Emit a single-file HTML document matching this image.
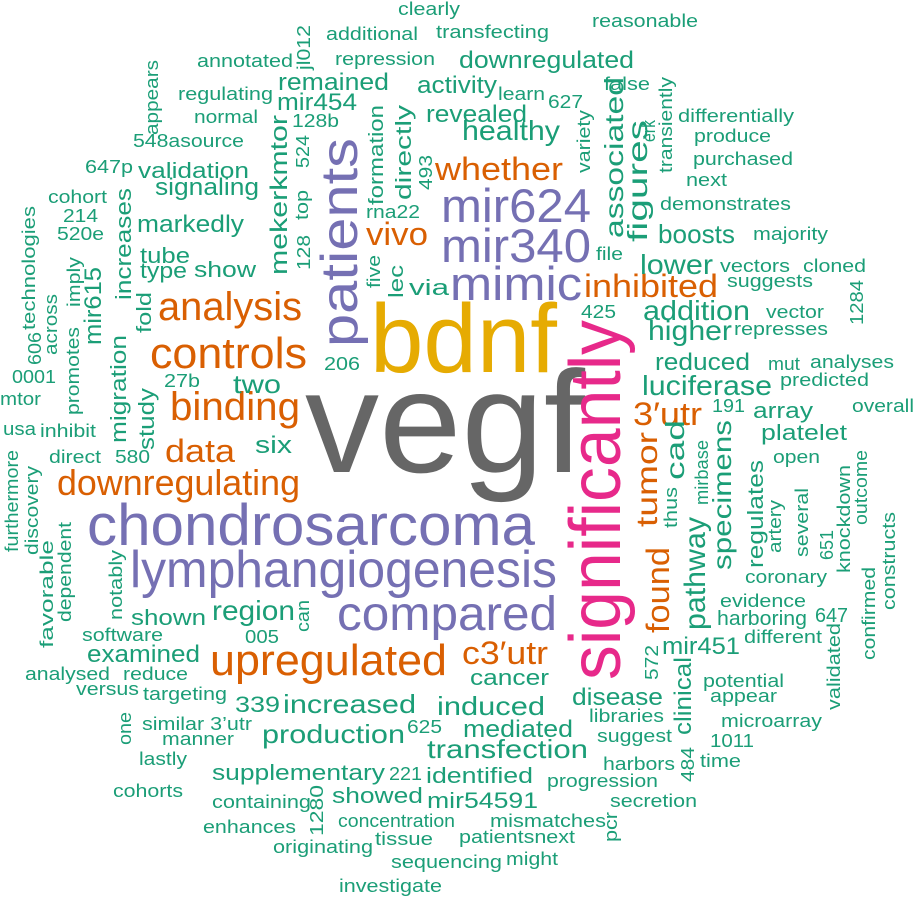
<!DOCTYPE html>
<html><head><meta charset="utf-8"><style>
html,body{margin:0;padding:0;background:#fff;}
svg{display:block;font-family:"Liberation Sans",Arial,sans-serif;}
text{fill:#1b9e77;font-size:18px;}
.o{fill:#d95f02}.p{fill:#7570b3}.m{fill:#e7298a}.y{fill:#e6ab02}.g{fill:#666666}
</style></head><body>
<svg width="914" height="897" viewBox="0 0 914 897" xmlns="http://www.w3.org/2000/svg">
<defs></defs>
<!-- big words -->
<text class="g" x="305" y="472" font-size="145" style="font-size:145px" textLength="280" lengthAdjust="spacingAndGlyphs">vegf</text>
<text class="y" x="370" y="372" style="font-size:97px" textLength="187" lengthAdjust="spacingAndGlyphs">bdnf</text>
<text class="m" transform="translate(620,680) rotate(-90)" style="font-size:72px" textLength="360" lengthAdjust="spacingAndGlyphs">significantly</text>
<text class="p" x="87" y="545" style="font-size:58px" textLength="448" lengthAdjust="spacingAndGlyphs">chondrosarcoma</text>
<text class="p" x="130" y="587" style="font-size:52px" textLength="427" lengthAdjust="spacingAndGlyphs">lymphangiogenesis</text>
<text class="p" x="337" y="630" style="font-size:48px" textLength="220" lengthAdjust="spacingAndGlyphs">compared</text>
<text class="p" transform="translate(357,347) rotate(-90)" style="font-size:52px" textLength="209" lengthAdjust="spacingAndGlyphs">patients</text>
<text class="p" x="441" y="222" style="font-size:47px" textLength="150" lengthAdjust="spacingAndGlyphs">mir624</text>
<text class="p" x="441" y="262" style="font-size:47px" textLength="150" lengthAdjust="spacingAndGlyphs">mir340</text>
<text class="p" x="450" y="300" style="font-size:47px" textLength="132" lengthAdjust="spacingAndGlyphs">mimic</text>
<!-- orange -->
<text class="o" x="150" y="368" style="font-size:44px" textLength="157" lengthAdjust="spacingAndGlyphs">controls</text>
<text class="o" x="158" y="320" style="font-size:40px" textLength="144" lengthAdjust="spacingAndGlyphs">analysis</text>
<text class="o" x="170" y="420" style="font-size:40px" textLength="130" lengthAdjust="spacingAndGlyphs">binding</text>
<text class="o" x="210" y="675" style="font-size:44px" textLength="237" lengthAdjust="spacingAndGlyphs">upregulated</text>
<text class="o" x="57" y="495" style="font-size:36px" textLength="243" lengthAdjust="spacingAndGlyphs">downregulating</text>
<text class="o" x="165" y="462" style="font-size:32px" textLength="70" lengthAdjust="spacingAndGlyphs">data</text>
<text class="o" x="435" y="180" style="font-size:32px" textLength="128" lengthAdjust="spacingAndGlyphs">whether</text>
<text class="o" x="366" y="245" style="font-size:32px" textLength="62" lengthAdjust="spacingAndGlyphs">vivo</text>
<text class="o" x="584" y="297" style="font-size:32px" textLength="134" lengthAdjust="spacingAndGlyphs">inhibited</text>
<text class="o" x="462" y="664" style="font-size:32px" textLength="86" lengthAdjust="spacingAndGlyphs">c3′utr</text>
<text class="o" x="633" y="425" style="font-size:32px" textLength="69" lengthAdjust="spacingAndGlyphs">3′utr</text>
<text class="o" transform="translate(657,527) rotate(-90)" style="font-size:30px" textLength="95" lengthAdjust="spacingAndGlyphs">tumor</text>
<text class="o" transform="translate(669,633) rotate(-90)" style="font-size:32px" textLength="86" lengthAdjust="spacingAndGlyphs">found</text>
<!-- green horizontal -->
<text x="462" y="140" style="font-size:28px" textLength="98" lengthAdjust="spacingAndGlyphs">healthy</text>
<text x="459" y="68" style="font-size:24px" textLength="175" lengthAdjust="spacingAndGlyphs">downregulated</text>
<text x="426" y="122" style="font-size:24px" textLength="101" lengthAdjust="spacingAndGlyphs">revealed</text>
<text x="417" y="93" style="font-size:24px" textLength="80" lengthAdjust="spacingAndGlyphs">activity</text>
<text x="278" y="90" style="font-size:24px" textLength="111" lengthAdjust="spacingAndGlyphs">remained</text>
<text x="277" y="110" style="font-size:24px" textLength="80" lengthAdjust="spacingAndGlyphs">mir454</text>
<text x="643" y="320" style="font-size:28px" textLength="107" lengthAdjust="spacingAndGlyphs">addition</text>
<text x="648" y="340" style="font-size:28px" textLength="84" lengthAdjust="spacingAndGlyphs">higher</text>
<text x="640" y="274" style="font-size:28px" textLength="73" lengthAdjust="spacingAndGlyphs">lower</text>
<text x="658" y="243" style="font-size:26px" textLength="77" lengthAdjust="spacingAndGlyphs">boosts</text>
<text x="655" y="370" style="font-size:24px" textLength="95" lengthAdjust="spacingAndGlyphs">reduced</text>
<text x="642" y="395" style="font-size:28px" textLength="130" lengthAdjust="spacingAndGlyphs">luciferase</text>
<text x="745" y="583" textLength="82" lengthAdjust="spacingAndGlyphs">coronary</text>
<text x="720" y="607" textLength="86" lengthAdjust="spacingAndGlyphs">evidence</text>
<text x="717" y="625" style="font-size:20px" textLength="90" lengthAdjust="spacingAndGlyphs">harboring</text>
<text x="815" y="622" style="font-size:20px" textLength="33" lengthAdjust="spacingAndGlyphs">647</text>
<text x="744" y="643" textLength="78" lengthAdjust="spacingAndGlyphs">different</text>
<text x="662" y="654" style="font-size:24px" textLength="78" lengthAdjust="spacingAndGlyphs">mir451</text>
<text x="703" y="687" textLength="81" lengthAdjust="spacingAndGlyphs">potential</text>
<text x="710" y="702" textLength="67" lengthAdjust="spacingAndGlyphs">appear</text>
<text x="721" y="727" textLength="101" lengthAdjust="spacingAndGlyphs">microarray</text>
<text x="710" y="747" textLength="44" lengthAdjust="spacingAndGlyphs">1011</text>
<text x="700" y="767" textLength="41" lengthAdjust="spacingAndGlyphs">time</text>
<text x="603" y="770" textLength="72" lengthAdjust="spacingAndGlyphs">harbors</text>
<text x="547" y="787" textLength="111" lengthAdjust="spacingAndGlyphs">progression</text>
<text x="610" y="807" textLength="87" lengthAdjust="spacingAndGlyphs">secretion</text>
<text x="490" y="827" textLength="116" lengthAdjust="spacingAndGlyphs">mismatches</text>
<text x="459" y="843" textLength="116" lengthAdjust="spacingAndGlyphs">patientsnext</text>
<text x="506" y="865" textLength="52" lengthAdjust="spacingAndGlyphs">might</text>
<text x="391" y="868" textLength="111" lengthAdjust="spacingAndGlyphs">sequencing</text>
<text x="339" y="892" textLength="103" lengthAdjust="spacingAndGlyphs">investigate</text>
<text x="273" y="853" textLength="100" lengthAdjust="spacingAndGlyphs">originating</text>
<text x="375" y="845" textLength="58" lengthAdjust="spacingAndGlyphs">tissue</text>
<text x="338" y="827" textLength="117" lengthAdjust="spacingAndGlyphs">concentration</text>
<text x="203" y="833" textLength="93" lengthAdjust="spacingAndGlyphs">enhances</text>
<text x="212" y="808" textLength="99" lengthAdjust="spacingAndGlyphs">containing</text>
<text x="332" y="803" style="font-size:22px" textLength="91" lengthAdjust="spacingAndGlyphs">showed</text>
<text x="427" y="808" style="font-size:22px" textLength="111" lengthAdjust="spacingAndGlyphs">mir54591</text>
<text x="426" y="783" style="font-size:22px" textLength="107" lengthAdjust="spacingAndGlyphs">identified</text>
<text x="212" y="780" style="font-size:22px" textLength="173" lengthAdjust="spacingAndGlyphs">supplementary</text>
<text x="389" y="780" textLength="33" lengthAdjust="spacingAndGlyphs">221</text>
<text x="427" y="758" style="font-size:26px" textLength="161" lengthAdjust="spacingAndGlyphs">transfection</text>
<text x="262" y="743" style="font-size:26px" textLength="143" lengthAdjust="spacingAndGlyphs">production</text>
<text x="407" y="733" textLength="35" lengthAdjust="spacingAndGlyphs">625</text>
<text x="283" y="713" style="font-size:26px" textLength="133" lengthAdjust="spacingAndGlyphs">increased</text>
<text x="437" y="715" style="font-size:26px" textLength="108" lengthAdjust="spacingAndGlyphs">induced</text>
<text x="235" y="712" style="font-size:22px" textLength="45" lengthAdjust="spacingAndGlyphs">339</text>
<text x="463" y="737" style="font-size:24px" textLength="110" lengthAdjust="spacingAndGlyphs">mediated</text>
<text x="470" y="685" style="font-size:22px" textLength="79" lengthAdjust="spacingAndGlyphs">cancer</text>
<text x="572" y="705" style="font-size:24px" textLength="91" lengthAdjust="spacingAndGlyphs">disease</text>
<text x="589" y="722" textLength="75" lengthAdjust="spacingAndGlyphs">libraries</text>
<text x="597" y="742" textLength="75" lengthAdjust="spacingAndGlyphs">suggest</text>
<text x="143" y="700" textLength="84" lengthAdjust="spacingAndGlyphs">targeting</text>
<text x="142" y="730" textLength="110" lengthAdjust="spacingAndGlyphs">similar 3’utr</text>
<text x="162" y="745" textLength="72" lengthAdjust="spacingAndGlyphs">manner</text>
<text x="76" y="695" textLength="63" lengthAdjust="spacingAndGlyphs">versus</text>
<text x="139" y="765" textLength="48" lengthAdjust="spacingAndGlyphs">lastly</text>
<text x="113" y="797" textLength="70" lengthAdjust="spacingAndGlyphs">cohorts</text>
<text x="25" y="680" textLength="85" lengthAdjust="spacingAndGlyphs">analysed</text>
<text x="123" y="680" textLength="65" lengthAdjust="spacingAndGlyphs">reduce</text>
<text x="87" y="662" style="font-size:24px" textLength="113" lengthAdjust="spacingAndGlyphs">examined</text>
<text x="82" y="641" textLength="81" lengthAdjust="spacingAndGlyphs">software</text>
<text x="245" y="643" textLength="34" lengthAdjust="spacingAndGlyphs">005</text>
<text x="131" y="625" style="font-size:22px" textLength="75" lengthAdjust="spacingAndGlyphs">shown</text>
<text x="212" y="620" style="font-size:28px" textLength="83" lengthAdjust="spacingAndGlyphs">region</text>
<text x="49" y="463" textLength="52" lengthAdjust="spacingAndGlyphs">direct</text>
<text x="115" y="463" textLength="35" lengthAdjust="spacingAndGlyphs">580</text>
<text x="255" y="453" style="font-size:24px" textLength="37" lengthAdjust="spacingAndGlyphs">six</text>
<text x="233" y="393" style="font-size:26px" textLength="48" lengthAdjust="spacingAndGlyphs">two</text>
<text x="164" y="387" textLength="36" lengthAdjust="spacingAndGlyphs">27b</text>
<text x="324" y="370" textLength="36" lengthAdjust="spacingAndGlyphs">206</text>
<text x="3" y="435" textLength="33" lengthAdjust="spacingAndGlyphs">usa</text>
<text x="40" y="437" textLength="56" lengthAdjust="spacingAndGlyphs">inhibit</text>
<text x="0" y="405" textLength="41" lengthAdjust="spacingAndGlyphs">mtor</text>
<text x="12" y="383" textLength="44" lengthAdjust="spacingAndGlyphs">0001</text>
<text x="140" y="263" style="font-size:22px" textLength="50" lengthAdjust="spacingAndGlyphs">tube</text>
<text x="140" y="278" style="font-size:22px" textLength="47" lengthAdjust="spacingAndGlyphs">type</text>
<text x="194" y="277" style="font-size:22px" textLength="62" lengthAdjust="spacingAndGlyphs">show</text>
<text x="137" y="232" style="font-size:24px" textLength="107" lengthAdjust="spacingAndGlyphs">markedly</text>
<text x="155" y="195" style="font-size:24px" textLength="104" lengthAdjust="spacingAndGlyphs">signaling</text>
<text x="138" y="178" style="font-size:22px" textLength="111" lengthAdjust="spacingAndGlyphs">validation</text>
<text x="133" y="147" textLength="111" lengthAdjust="spacingAndGlyphs">548asource</text>
<text x="85" y="173" textLength="48" lengthAdjust="spacingAndGlyphs">647p</text>
<text x="48" y="203" textLength="59" lengthAdjust="spacingAndGlyphs">cohort</text>
<text x="63" y="222" textLength="35" lengthAdjust="spacingAndGlyphs">214</text>
<text x="57" y="240" textLength="47" lengthAdjust="spacingAndGlyphs">520e</text>
<text x="178" y="100" textLength="95" lengthAdjust="spacingAndGlyphs">regulating</text>
<text x="194" y="123" textLength="64" lengthAdjust="spacingAndGlyphs">normal</text>
<text x="197" y="67" textLength="96" lengthAdjust="spacingAndGlyphs">annotated</text>
<text x="326" y="40" textLength="92" lengthAdjust="spacingAndGlyphs">additional</text>
<text x="335" y="65" textLength="100" lengthAdjust="spacingAndGlyphs">repression</text>
<text x="398" y="15" textLength="62" lengthAdjust="spacingAndGlyphs">clearly</text>
<text x="436" y="38" textLength="113" lengthAdjust="spacingAndGlyphs">transfecting</text>
<text x="592" y="27" textLength="106" lengthAdjust="spacingAndGlyphs">reasonable</text>
<text x="498" y="100" textLength="47" lengthAdjust="spacingAndGlyphs">learn</text>
<text x="548" y="108" textLength="35" lengthAdjust="spacingAndGlyphs">627</text>
<text x="604" y="90" textLength="46" lengthAdjust="spacingAndGlyphs">false</text>
<text x="678" y="122" textLength="116" lengthAdjust="spacingAndGlyphs">differentially</text>
<text x="694" y="142" textLength="77" lengthAdjust="spacingAndGlyphs">produce</text>
<text x="693" y="165" textLength="100" lengthAdjust="spacingAndGlyphs">purchased</text>
<text x="686" y="186" textLength="41" lengthAdjust="spacingAndGlyphs">next</text>
<text x="660" y="210" textLength="131" lengthAdjust="spacingAndGlyphs">demonstrates</text>
<text x="753" y="240" textLength="75" lengthAdjust="spacingAndGlyphs">majority</text>
<text x="720" y="272" textLength="70" lengthAdjust="spacingAndGlyphs">vectors</text>
<text x="803" y="272" textLength="63" lengthAdjust="spacingAndGlyphs">cloned</text>
<text x="727" y="287" textLength="86" lengthAdjust="spacingAndGlyphs">suggests</text>
<text x="766" y="318" textLength="58" lengthAdjust="spacingAndGlyphs">vector</text>
<text x="734" y="335" textLength="94" lengthAdjust="spacingAndGlyphs">represses</text>
<text x="768" y="370" textLength="32" lengthAdjust="spacingAndGlyphs">mut</text>
<text x="810" y="368" textLength="84" lengthAdjust="spacingAndGlyphs">analyses</text>
<text x="780" y="386" textLength="89" lengthAdjust="spacingAndGlyphs">predicted</text>
<text x="852" y="412" textLength="62" lengthAdjust="spacingAndGlyphs">overall</text>
<text x="712" y="412" textLength="33" lengthAdjust="spacingAndGlyphs">191</text>
<text x="753" y="418" style="font-size:22px" textLength="60" lengthAdjust="spacingAndGlyphs">array</text>
<text x="761" y="440" style="font-size:22px" textLength="86" lengthAdjust="spacingAndGlyphs">platelet</text>
<text x="773" y="463" textLength="47" lengthAdjust="spacingAndGlyphs">open</text>
<text x="581" y="318" textLength="35" lengthAdjust="spacingAndGlyphs">425</text>
<text x="596" y="260" textLength="27" lengthAdjust="spacingAndGlyphs">file</text>
<text x="366" y="218" textLength="54" lengthAdjust="spacingAndGlyphs">rna22</text>
<text x="409" y="295" style="font-size:22px" textLength="40" lengthAdjust="spacingAndGlyphs">via</text>
<text x="292" y="127" textLength="47" lengthAdjust="spacingAndGlyphs">128b</text>
<!-- green vertical -->
<text transform="translate(623,238) rotate(-90)" style="font-size:26px" textLength="161" lengthAdjust="spacingAndGlyphs">associated</text>
<text transform="translate(647,242) rotate(-90)" style="font-size:28px" textLength="122" lengthAdjust="spacingAndGlyphs">figures</text>
<text transform="translate(655,142) rotate(-90)" textLength="22" lengthAdjust="spacingAndGlyphs">erk</text>
<text transform="translate(672,173) rotate(-90)" textLength="96" lengthAdjust="spacingAndGlyphs">transiently</text>
<text transform="translate(590,173) rotate(-90)" textLength="63" lengthAdjust="spacingAndGlyphs">variety</text>
<text transform="translate(705,630) rotate(-90)" style="font-size:30px" textLength="113" lengthAdjust="spacingAndGlyphs">pathway</text>
<text transform="translate(731,570) rotate(-90)" style="font-size:26px" textLength="150" lengthAdjust="spacingAndGlyphs">specimens</text>
<text transform="translate(684,480) rotate(-90)" style="font-size:26px" textLength="60" lengthAdjust="spacingAndGlyphs">cad</text>
<text transform="translate(708,505) rotate(-90)" textLength="65" lengthAdjust="spacingAndGlyphs">mirbase</text>
<text transform="translate(677,528) rotate(-90)" textLength="41" lengthAdjust="spacingAndGlyphs">thus</text>
<text transform="translate(763,568) rotate(-90)" style="font-size:22px" textLength="108" lengthAdjust="spacingAndGlyphs">regulates</text>
<text transform="translate(781,553) rotate(-90)" textLength="53" lengthAdjust="spacingAndGlyphs">artery</text>
<text transform="translate(808,557) rotate(-90)" textLength="69" lengthAdjust="spacingAndGlyphs">several</text>
<text transform="translate(833,560) rotate(-90)" textLength="30" lengthAdjust="spacingAndGlyphs">651</text>
<text transform="translate(850,573) rotate(-90)" textLength="108" lengthAdjust="spacingAndGlyphs">knockdown</text>
<text transform="translate(867,525) rotate(-90)" textLength="75" lengthAdjust="spacingAndGlyphs">outcome</text>
<text transform="translate(895,610) rotate(-90)" textLength="98" lengthAdjust="spacingAndGlyphs">constructs</text>
<text transform="translate(875,660) rotate(-90)" textLength="93" lengthAdjust="spacingAndGlyphs">confirmed</text>
<text transform="translate(840,710) rotate(-90)" textLength="87" lengthAdjust="spacingAndGlyphs">validated</text>
<text transform="translate(658,680) rotate(-90)" textLength="35" lengthAdjust="spacingAndGlyphs">572</text>
<text transform="translate(691,735) rotate(-90)" style="font-size:24px" textLength="78" lengthAdjust="spacingAndGlyphs">clinical</text>
<text transform="translate(694,782) rotate(-90)" textLength="35" lengthAdjust="spacingAndGlyphs">484</text>
<text transform="translate(617,842) rotate(-90)" textLength="30" lengthAdjust="spacingAndGlyphs">pcr</text>
<text transform="translate(323,836) rotate(-90)" textLength="51" lengthAdjust="spacingAndGlyphs">1280</text>
<text transform="translate(131,745) rotate(-90)" textLength="33" lengthAdjust="spacingAndGlyphs">one</text>
<text transform="translate(309,632) rotate(-90)" textLength="32" lengthAdjust="spacingAndGlyphs">can</text>
<text transform="translate(122,620) rotate(-90)" textLength="70" lengthAdjust="spacingAndGlyphs">notably</text>
<text transform="translate(53,648) rotate(-90)" textLength="108" lengthAdjust="spacingAndGlyphs">favorable</text>
<text transform="translate(71,622) rotate(-90)" textLength="100" lengthAdjust="spacingAndGlyphs">dependent</text>
<text transform="translate(18,552) rotate(-90)" textLength="102" lengthAdjust="spacingAndGlyphs">furthermore</text>
<text transform="translate(38,555) rotate(-90)" textLength="89" lengthAdjust="spacingAndGlyphs">discovery</text>
<text transform="translate(154,450) rotate(-90)" style="font-size:22px" textLength="62" lengthAdjust="spacingAndGlyphs">study</text>
<text transform="translate(126,443) rotate(-90)" style="font-size:22px" textLength="108" lengthAdjust="spacingAndGlyphs">migration</text>
<text transform="translate(41,365) rotate(-90)" textLength="33" lengthAdjust="spacingAndGlyphs">606</text>
<text transform="translate(35,330) rotate(-90)" textLength="124" lengthAdjust="spacingAndGlyphs">technologies</text>
<text transform="translate(57,355) rotate(-90)" textLength="61" lengthAdjust="spacingAndGlyphs">across</text>
<text transform="translate(79,415) rotate(-90)" textLength="88" lengthAdjust="spacingAndGlyphs">promotes</text>
<text transform="translate(80,307) rotate(-90)" textLength="50" lengthAdjust="spacingAndGlyphs">imply</text>
<text transform="translate(101,345) rotate(-90)" style="font-size:24px" textLength="78" lengthAdjust="spacingAndGlyphs">mir615</text>
<text transform="translate(131,300) rotate(-90)" style="font-size:22px" textLength="112" lengthAdjust="spacingAndGlyphs">increases</text>
<text transform="translate(151,333) rotate(-90)" style="font-size:20px" textLength="41" lengthAdjust="spacingAndGlyphs">fold</text>
<text transform="translate(158,135) rotate(-90)" textLength="75" lengthAdjust="spacingAndGlyphs">appears</text>
<text transform="translate(310,70) rotate(-90)" textLength="45" lengthAdjust="spacingAndGlyphs">jl012</text>
<text transform="translate(383,205) rotate(-90)" style="font-size:20px" textLength="100" lengthAdjust="spacingAndGlyphs">formation</text>
<text transform="translate(411,200) rotate(-90)" style="font-size:22px" textLength="95" lengthAdjust="spacingAndGlyphs">directly</text>
<text transform="translate(432,190) rotate(-90)" textLength="35" lengthAdjust="spacingAndGlyphs">493</text>
<text transform="translate(380,288) rotate(-90)" textLength="33" lengthAdjust="spacingAndGlyphs">five</text>
<text transform="translate(403,298) rotate(-90)" style="font-size:20px" textLength="33" lengthAdjust="spacingAndGlyphs">lec</text>
<text transform="translate(287,275) rotate(-90)" style="font-size:24px" textLength="160" lengthAdjust="spacingAndGlyphs">mekerkmtor</text>
<text transform="translate(308,220) rotate(-90)" textLength="30" lengthAdjust="spacingAndGlyphs">top</text>
<text transform="translate(309,168) rotate(-90)" textLength="33" lengthAdjust="spacingAndGlyphs">524</text>
<text transform="translate(310,270) rotate(-90)" textLength="35" lengthAdjust="spacingAndGlyphs">128</text>
<text transform="translate(863,325) rotate(-90)" textLength="45" lengthAdjust="spacingAndGlyphs">1284</text>
</svg>
</body></html>
